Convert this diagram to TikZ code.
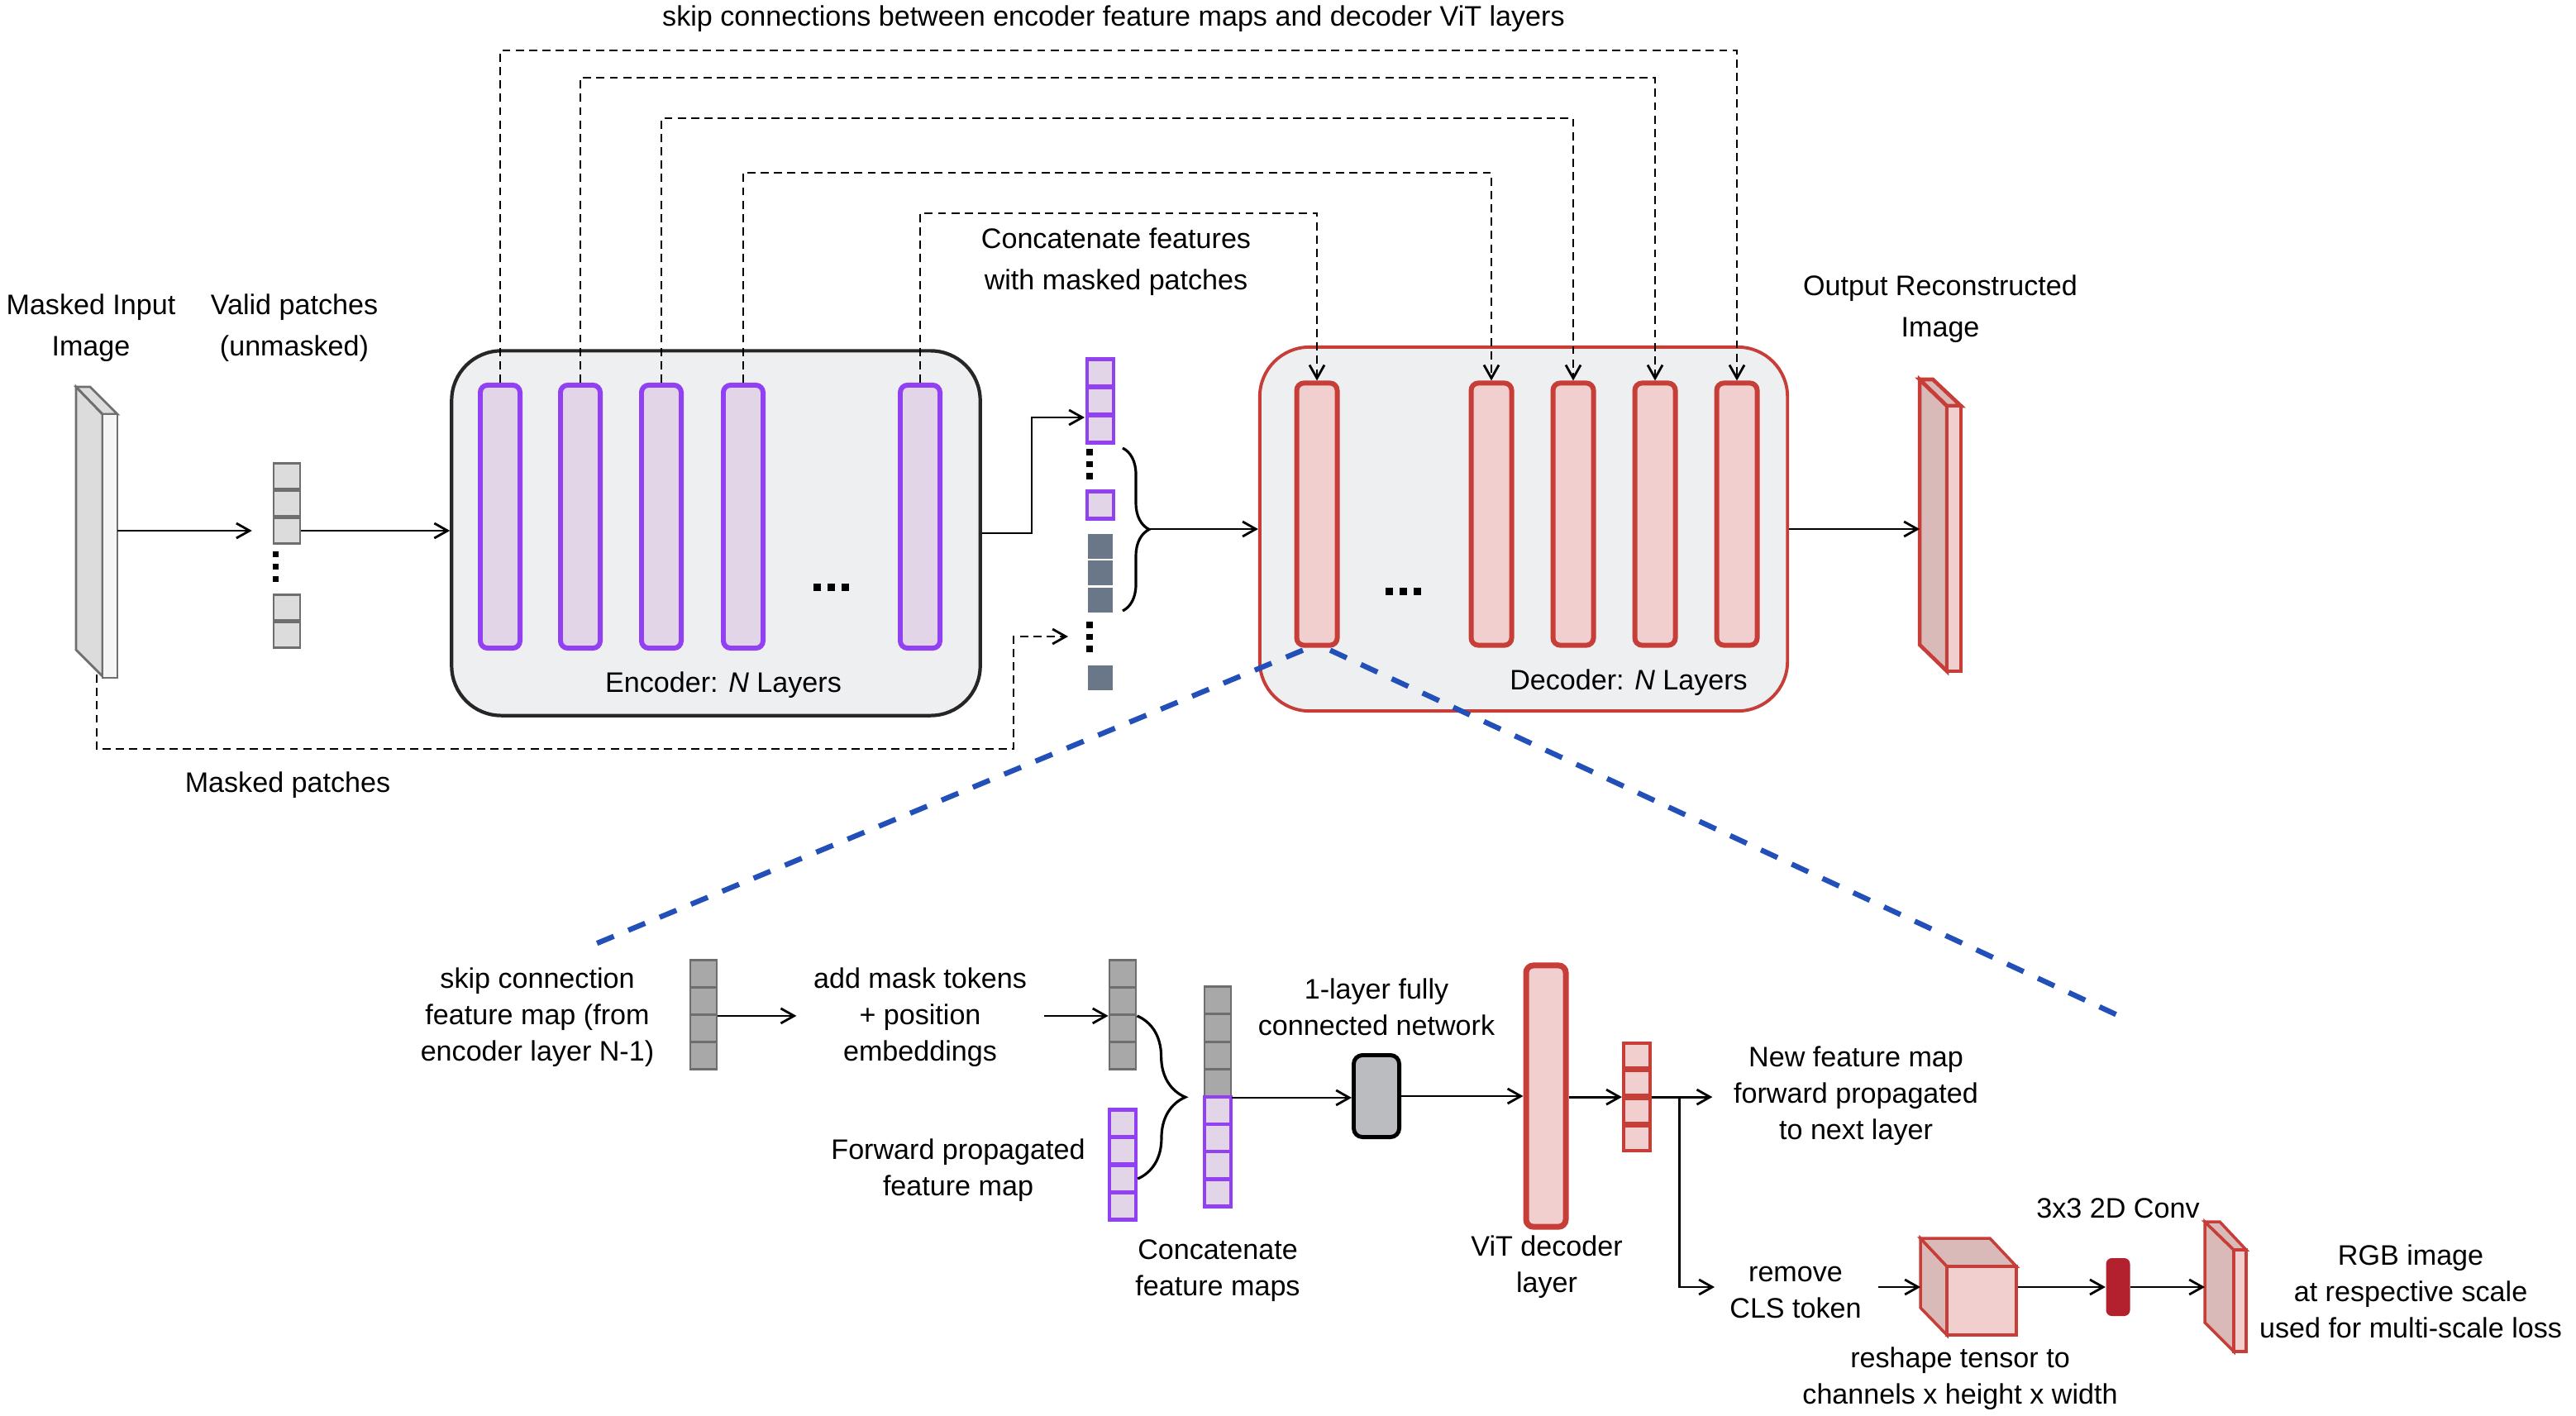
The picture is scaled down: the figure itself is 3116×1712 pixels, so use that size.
\documentclass[tikz,border=0pt]{standalone}
\usepackage{fontspec}
\setmainfont{Liberation Sans}
\usetikzlibrary{arrows.meta,decorations.pathreplacing}

\definecolor{encline}{HTML}{9140F2}
\definecolor{encfill}{HTML}{E1D5E7}
\definecolor{decline}{HTML}{C73D37}
\definecolor{decfill}{HTML}{F1CFCE}
\definecolor{decside}{HTML}{D9BAB9}
\definecolor{boxfill}{HTML}{EEEFF1}
\definecolor{boxline}{HTML}{262626}
\definecolor{patchfill}{HTML}{DCDCDC}
\definecolor{patchline}{HTML}{6E6E6E}
\definecolor{tokenfill}{HTML}{A8A8A8}
\definecolor{maskfill}{HTML}{6A7789}
\definecolor{fcfill}{HTML}{BBBCC0}
\definecolor{convfill}{HTML}{B3212F}
\definecolor{zoomblue}{HTML}{2250B8}

\tikzset{
  txt/.style={align=center, inner sep=0pt, font=\fontsize{9.7}{14.3}\selectfont},
  txts/.style={align=center, inner sep=0pt, font=\fontsize{9.7}{12.5}\selectfont},
  enclayer/.style={draw=encline, fill=encfill, line width=1.7pt, rounded corners=2.5pt,
    minimum width=0.48cm, minimum height=3.18cm, inner sep=0pt},
  declayer/.style={draw=decline, fill=decfill, line width=1.7pt, rounded corners=2.5pt,
    minimum width=0.49cm, minimum height=3.17cm, inner sep=0pt},
  gcell/.style={draw=patchline, fill=patchfill, line width=0.7pt,
    minimum width=0.32cm, minimum height=0.31cm, inner sep=0pt},
  tcell/.style={draw=patchline, fill=tokenfill, line width=0.8pt,
    minimum width=0.32cm, minimum height=0.33cm, inner sep=0pt},
  pcell/.style={draw=encline, fill=encfill, line width=1.2pt,
    minimum width=0.32cm, minimum height=0.33cm, inner sep=0pt},
  mcell/.style={draw=white, fill=maskfill, line width=0.4pt,
    minimum width=0.31cm, minimum height=0.32cm, inner sep=0pt},
  rcell/.style={draw=decline, fill=decfill, line width=1.2pt,
    minimum width=0.32cm, minimum height=0.30cm, inner sep=0pt},
  skipline/.style={line width=0.8pt, dash pattern=on 2.8pt off 1.8pt},
  arr/.style={->, line width=0.8pt},
  zoomline/.style={draw=zoomblue, line width=1.8pt, dash pattern=on 0.22cm off 0.19cm},
  dotcol/.style={line width=0.07cm, dash pattern=on 0.065cm off 0.085cm},
  dotrow/.style={line width=0.09cm, dash pattern=on 0.09cm off 0.08cm},
  face/.style={draw=decline, line width=1pt},
  grayface/.style={draw=patchline, line width=0.8pt},
}

\begin{document}
\begin{tikzpicture}[x=0.01cm, y=-0.01cm, >={Straight Barb[length=1.6mm,width=1.8mm]}]
  \useasboundingbox (0,0) rectangle (3116,1712);

  % 标题
  \node[txt] (title) at (1347,23) {skip connections between encoder feature maps and decoder ViT layers};

  % 输入图像和有效 patch
  \filldraw[grayface, fill=patchfill] (92,468) -- (124,501) -- (124,818) -- (92,786) -- cycle;
  \filldraw[grayface, fill=patchfill] (92,468) -- (109,468) -- (142,501) -- (124,501) -- cycle;
  \filldraw[grayface, fill=gray!8] (124,501) rectangle (142,820);
  \coordinate (inimg) at (142,642);
  \coordinate (inimgb) at (117,816);
  \node[txt] (inlbl) at (110,397) {Masked Input\\Image};
  \node[txt] (vallbl) at (356,397) {Valid patches\\(unmasked)};
  \foreach \i/\y in {1/576, 2/609, 3/642, 4/735, 5/768}
    \node[gcell] (v\i) at (347,\y) {};
  \draw[dotcol] (333.5,667) -- (333.5,704);

  % 编码器
  \node[draw=boxline, fill=boxfill, line width=1.2pt, rounded corners=0.6cm,
        minimum width=6.39cm, minimum height=4.41cm] (enc) at (866,645) {};
  \foreach \i/\x in {1/605, 2/702, 3/800, 4/899, 5/1113}
    \node[enclayer] (e\i) at (\x,625) {};
  \draw[dotrow] (984,710) -- (1028,710);
  \node[txt] (enclbl) at (875,829) {Encoder: \textit{N} Layers};

  % 解码器
  \node[draw=decline, fill=boxfill, line width=1.1pt, rounded corners=0.6cm,
        minimum width=6.38cm, minimum height=4.4cm] (dec) at (1843,640) {};
  \foreach \i/\x in {1/1593, 2/1804, 3/1903, 4/2002, 5/2101}
    \node[declayer] (d\i) at (\x,622) {};
  \draw[dotrow] (1676,715) -- (1720,715);
  \node[txt] (declbl) at (1970,826) {Decoder: \textit{N} Layers};

  % 跳跃连接
  \foreach \a/\b/\h in {1/5/61, 2/4/94, 3/3/143, 4/2/209, 5/1/258}
    \draw[skipline,->] (e\a.north) -- (e\a.north |- 0,\h) -| (d\b.north);

  % 拼接的 token
  \node[txt] (catlbl) at (1350,317) {Concatenate features\\with masked patches};
  \foreach \i/\y in {1/451, 2/485, 3/519, 4/611}
    \node[pcell] (c\i) at (1331,\y) {};
  \foreach \i/\y in {1/661, 2/693, 3/726, 4/820}
    \node[mcell] (m\i) at (1331,\y) {};
  \draw[line width=0.08cm, dash pattern=on 0.075cm off 0.07cm] (1318,543) -- (1318,581);
  \draw[line width=0.08cm, dash pattern=on 0.075cm off 0.07cm] (1318,752) -- (1318,789);
  \draw[line width=0.9pt, decorate, decoration={brace, amplitude=0.32cm}] (1358,542) -- (1358,739);
  \coordinate (brtip) at (1391,640);
  \coordinate (c3in) at (1312,505);
  \coordinate (mkin) at (1292,770);

  % 主要箭头
  \draw[arr, shorten >=0.25cm] (inimg) -- (v3.west);
  \draw[arr] (v3.east) -- (enc.west |- v3.east);
  \draw[arr] (enc.east) -- (1248,645) |- (c3in);
  \draw[skipline,->] (inimgb) |- (1226,906) |- (mkin);
  \node[txt] (mplbl) at (348,950) {Masked patches};
  \draw[arr] (brtip) -- (dec.west |- brtip);

  % 输出图像
  \filldraw[face, line width=1.3pt, fill=decside] (2322,459) -- (2355,491) -- (2355,812) -- (2322,780) -- cycle;
  \filldraw[face, line width=1.3pt, fill=decside] (2322,459) -- (2338,459) -- (2372,491) -- (2355,491) -- cycle;
  \filldraw[face, line width=1.3pt, fill=decfill] (2355,491) rectangle (2372,812);
  \coordinate (outimg) at (2322,640);
  \draw[arr] (dec.east) -- (outimg);
  \node[txt] (outlbl) at (2347,374) {Output Reconstructed\\Image};

  % 放大线
  \coordinate (zl) at (720,1142);
  \coordinate (zr) at (2572,1233);
  \draw[zoomline] ([xshift=-0.17cm, yshift=-0.03cm]d1.south) -- (zl);
  \draw[zoomline] ([xshift=0.16cm, yshift=-0.03cm]d1.south) -- (zr);

  % 解码层细节
  \node[txts] (skiplbl) at (650,1231) {skip connection\\feature map (from\\encoder layer N-1)};
  \foreach \i/\y in {1/1178, 2/1211, 3/1244, 4/1277}
    \node[tcell] (s\i) at (851,\y) {};
  \node[txts] (amlbl) at (1113,1231) {add mask tokens\\+ position\\embeddings};
  \foreach \i/\y in {1/1178, 2/1211, 3/1244, 4/1277}
    \node[tcell] (k\i) at (1358,\y) {};
  \draw[arr, shorten >=0.2cm] (s2.south east) -- (amlbl.west |- s2.south east);
  \draw[arr, shorten <=0.2cm] (amlbl.east |- k2.south west) -- (k2.south west);

  \node[txts] (fplbl) at (1159,1416) {Forward propagated\\feature map};
  \foreach \i/\y in {1/1359, 2/1392, 3/1426, 4/1459}
    \node[pcell] (f\i) at (1358,\y) {};
  \draw[line width=0.9pt, decorate, decoration={brace, amplitude=0.58cm}] (k2.south east) -- (f3.east);

  \foreach \i in {1,...,4}
    \node[tcell] (cc\i) at (1473,1177+33.25*\i) {};
  \foreach \i in {5,...,8}
    \node[pcell] (cc\i) at (1473,1177+33.25*\i) {};
  \node[txts] (cclbl) at (1473,1537) {Concatenate\\feature maps};

  \node[draw=black, fill=fcfill, line width=1.4pt, rounded corners=3pt,
        minimum width=0.55cm, minimum height=0.99cm, inner sep=0pt] (fc) at (1665,1326) {};
  \node[txts] (fclbl) at (1665,1218) {1-layer fully\\connected network};
  \draw[arr] (cc4.south east) -- (fc.west |- cc4.south east);

  \node[declayer, line width=2pt, minimum width=0.48cm, minimum height=3.16cm] (vit) at (1870,1326) {};
  \node[txts] (vitlbl) at (1871,1533) {ViT decoder\\layer};
  \draw[arr] (fc.east) -- (vit.west |- fc.east);

  \foreach \i/\y in {1/1277, 2/1310, 3/1344, 4/1377}
    \node[rcell] (r\i) at (1980,\y) {};
  \draw[arr] (vit.east |- r2.south west) -- (r2.south west);
  \node[txts] (nflbl) at (2245,1326) {New feature map\\forward propagated\\to next layer};
  \draw[arr, shorten >=0.25cm] (r2.south east) -- (nflbl.west |- r2.south east);
  \coordinate (clsin) at (2074,1557);
  \draw[arr] (r2.south east) -- ++(33,0) |- (clsin);
  \node[txts] (clslbl) at (2172,1563) {remove\\CLS token};

  % 重塑的张量
  \filldraw[face, fill=decside] (2323,1498) -- (2355,1532) -- (2355,1615) -- (2323,1582) -- cycle;
  \filldraw[face, fill=decside] (2323,1498) -- (2407,1498) -- (2439,1532) -- (2355,1532) -- cycle;
  \node[draw=decline, fill=decfill, line width=1pt, minimum width=0.84cm, minimum height=0.83cm,
        inner sep=0pt] (cube) at (2397,1573.5) {};
  \coordinate (cubein) at (2323,1557);
  \draw[arr, shorten <=0.2cm] (clslbl.east |- cubein) -- (cubein);
  \node[txts] (reslbl) at (2371,1668) {reshape tensor to\\channels x height x width};

  % 卷积和 RGB 输出
  \node[fill=convfill, rounded corners=2pt, minimum width=0.29cm, minimum height=0.70cm,
        inner sep=0pt] (conv) at (2562,1557) {};
  \node[txts] (convlbl) at (2562,1462) {3x3 2D Conv};
  \draw[arr] (cube.east |- conv.west) -- (conv.west);
  \filldraw[face, fill=decside] (2667,1478) -- (2702,1512) -- (2702,1635) -- (2667,1600) -- cycle;
  \filldraw[face, fill=decside] (2667,1478) -- (2685,1478) -- (2717,1512) -- (2702,1512) -- cycle;
  \filldraw[face, fill=decfill] (2702,1512) rectangle (2717,1635);
  \coordinate (rgbin) at (2667,1557);
  \draw[arr] (conv.east) -- (rgbin);
  \node[txts] (rgblbl) at (2916,1562) {RGB image\\at respective scale\\used for multi-scale loss};
\end{tikzpicture}
\end{document}
